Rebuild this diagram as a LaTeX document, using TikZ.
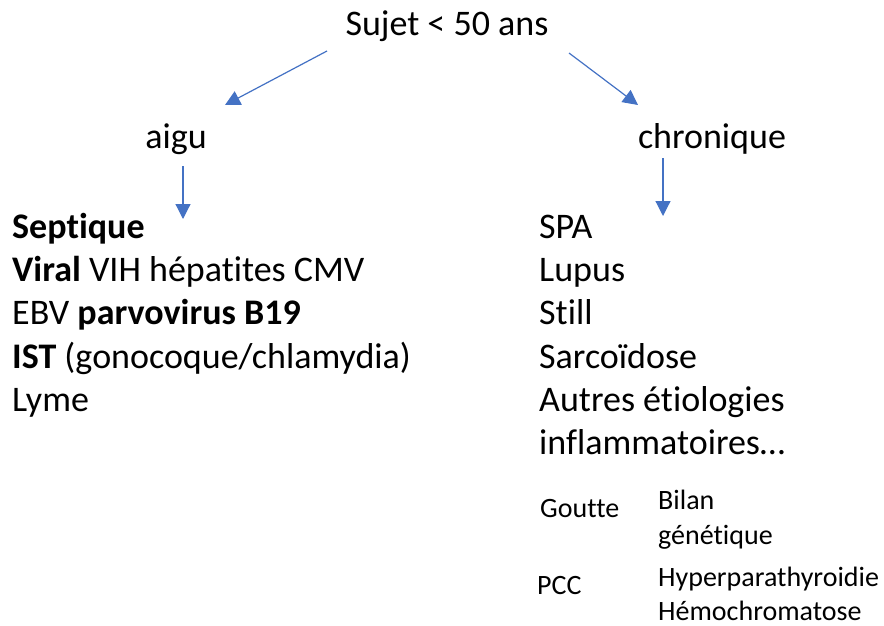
\documentclass[tikz,border=0pt]{standalone}
\usepackage{fontspec}
\setmainfont{Carlito}[Ligatures={NoCommon}]
\usetikzlibrary{arrows.meta}
\definecolor{arrowblue}{HTML}{4472C4}
\begin{document}
\begin{tikzpicture}[x=1pt,y=-1pt,
  big/.style={inner sep=0pt,font=\fontsize{36}{43.3}\selectfont,anchor=base west},
  small/.style={inner sep=0pt,font=\fontsize{28}{34.5}\selectfont,anchor=base west},
  arr/.style={draw=arrowblue,line width=1.2pt,-{Triangle[length=15pt,width=15pt]}}]
\useasboundingbox (0,0) rectangle (884,626);
\node[big,anchor=base] (root) at (447,36) {Sujet < 50 ans};
\node[big,anchor=base] (aigu) at (176,148) {aigu};
\node[big,anchor=base] (chron) at (712,148) {chronique};
\node[big] (l1) at (12,238) {\textbf{Septique}};
\node[big] (l2) at (12,281) {\textbf{Viral} VIH hépatites CMV};
\node[big] (l3) at (12,324) {EBV \textbf{parvovirus B19}};
\node[big] (l4) at (12,368) {\textbf{IST} (gonocoque/chlamydia)};
\node[big] (l5) at (12,411) {Lyme};
\node[big] (r1) at (539,238) {SPA};
\node[big] (r2) at (539,281) {Lupus};
\node[big] (r3) at (539,324) {Still};
\node[big] (r4) at (539,368) {Sarcoïdose};
\node[big] (r5) at (539,411) {Autres étiologies};
\node[big] (r6) at (539,454) {inflammatoires…};
\node[small] (goutte) at (540,517) {Goutte};
\node[small] (bilan1) at (658,509) {Bilan};
\node[small] (bilan2) at (658,544) {génétique};
\node[small] (pcc) at (537,594) {PCC};
\node[small] (hyper1) at (658,586) {Hyperparathyroidie};
\node[small] (hyper2) at (658,620) {Hémochromatose};
\coordinate (a1s) at (327,51);
\coordinate (a1e) at (225,105);
\coordinate (a2s) at (569,53);
\coordinate (a2e) at (638,105);
\coordinate (a3s) at (183,166);
\coordinate (a3e) at (183,219);
\coordinate (a4s) at (663,158);
\coordinate (a4e) at (663,216);
\draw[arr] (a1s) -- (a1e);
\draw[arr] (a2s) -- (a2e);
\draw[arr] (a3s) -- (a3e);
\draw[arr] (a4s) -- (a4e);
\end{tikzpicture}
\end{document}
